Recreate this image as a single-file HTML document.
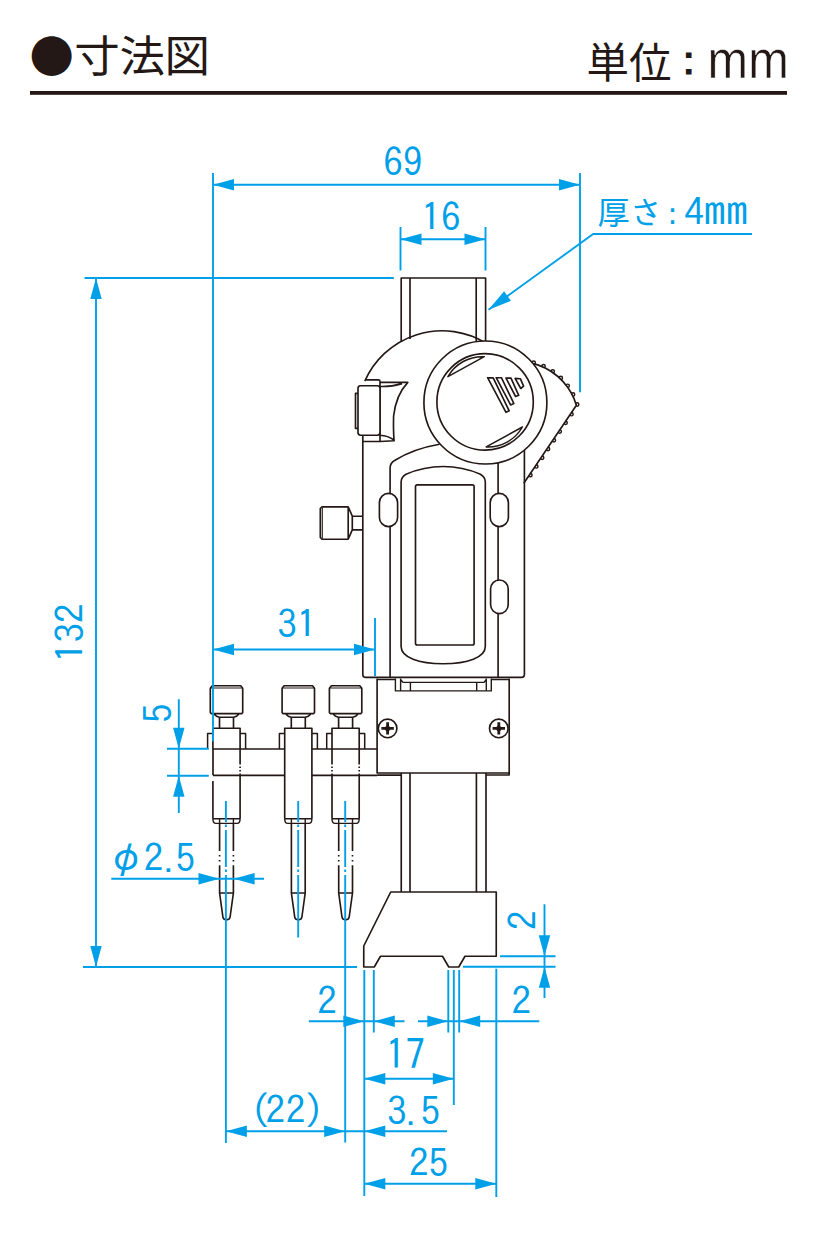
<!DOCTYPE html>
<html lang="ja"><head><meta charset="utf-8"><title>寸法図</title>
<style>html,body{margin:0;padding:0;background:#fff}svg{display:block}</style></head>
<body>
<svg width="820" height="1250" viewBox="0 0 820 1250">
<rect width="820" height="1250" fill="#fff"/>

<text id="bul" x="29.5" y="73.3" font-family="'Noto Sans CJK JP', sans-serif" font-size="44.3" fill="#231815">●</text>
<text id="ttl" transform="translate(74.3,72) scale(1,0.96)" letter-spacing="-0.4" font-family="'Liberation Sans','Noto Sans CJK JP', sans-serif" font-size="45.5" fill="#231815">寸法図</text>
<text id="unit" x="586.5" y="77.6" font-family="'Liberation Sans','Noto Sans CJK JP', sans-serif" font-size="42.5" fill="#231815">単位<tspan x="665" y="76.6" font-size="47" font-family="IPAGothic, 'Noto Sans CJK JP', sans-serif">：</tspan></text>
<text id="mm" x="0" y="0" transform="translate(707.6,78) scale(0.955,1)" font-family="'Liberation Sans', sans-serif" font-size="51" fill="#231815" stroke="#fff" stroke-width="0.45">mm</text>
<rect x="30" y="91" width="757" height="3.8" fill="#231815"/>

<g stroke="#231815" stroke-width="1.65" fill="none" stroke-linejoin="round" stroke-linecap="butt">
<path d="M401.2,342 V278 H485.6 V342 M410,339 V278 M476.2,341 V278" />
<circle cx="533.68" cy="362.71" r="1.7" fill="#fff" stroke-width="1.45"/>
<circle cx="543.52" cy="366.25" r="1.7" fill="#fff" stroke-width="1.45"/>
<circle cx="552.73" cy="371.45" r="1.7" fill="#fff" stroke-width="1.45"/>
<circle cx="560.79" cy="378.01" r="1.7" fill="#fff" stroke-width="1.45"/>
<circle cx="567.67" cy="385.82" r="1.7" fill="#fff" stroke-width="1.45"/>
<circle cx="573.04" cy="394.48" r="1.7" fill="#fff" stroke-width="1.45"/>
<circle cx="577.11" cy="404.47" r="1.7" fill="#fff" stroke-width="1.45"/>
<circle cx="571.45" cy="414.16" r="1.7" fill="#fff" stroke-width="1.45"/>
<circle cx="565.58" cy="422.87" r="1.7" fill="#fff" stroke-width="1.45"/>
<circle cx="559.72" cy="431.58" r="1.7" fill="#fff" stroke-width="1.45"/>
<circle cx="553.85" cy="440.29" r="1.7" fill="#fff" stroke-width="1.45"/>
<circle cx="547.99" cy="449.00" r="1.7" fill="#fff" stroke-width="1.45"/>
<circle cx="542.12" cy="457.71" r="1.7" fill="#fff" stroke-width="1.45"/>
<circle cx="536.26" cy="466.42" r="1.7" fill="#fff" stroke-width="1.45"/>
<circle cx="530.39" cy="475.13" r="1.7" fill="#fff" stroke-width="1.45"/>
<path d="M482.38,372.60 A61.40,61.40 0 0 1 576.4,405.2 L523.8,483.3 L524,440 L500,380 Z" fill="#fff" stroke="none"/>
<path d="M482.38,372.60 A61.40,61.40 0 0 1 576.4,405.2 L523.8,483.3"/>
<path d="M364.82,381.2 A84.3,84.3 0 0 1 486,343.19" />
<path d="M362.8,436 V674.4 Q362.8,677.4 365.8,677.4 H521.6 Q524.4,677.4 524.4,674.6 V449" />
<path d="M366.1,379.9 H378.5 Q380,379.9 380,381.4 V441.5 H363 M380,382.4 H407.8 Q396,395 393.6,416 Q393.2,430 394.1,440.8 L380,441.5 M380,386.5 Q392,386.8 402,383.6 M380,435.2 Q388,435.6 394,440" />
<rect x="358" y="385.7" width="22" height="49.5" rx="2.6" fill="#fff"/>
<path d="M358,393.3 H355.5 V428.4 H358" />
<path d="M322,506.8 H348.2 L352.3,516.2 V529.8 L348.2,539.2 H322 L320.3,537.5 V508.5 Z M348.2,506.8 V539.2 M352.3,516.2 H362.8 M352.3,529.8 H362.8" />
<path d="M322.3,507.5 V538.5" stroke-width="1.1"/>
<path d="M390.1,677 V467.5 Q390.4,462.4 395,460.2 Q414,448.5 439.5,444.2" />
<path d="M498.1,462 V677" />
<path d="M401.1,646.5 V482 Q401.1,477 406,474.2 Q424,466.5 443.2,466.5 Q462.5,466.5 480.4,474.2 Q485.3,477 485.3,482 V646.5 C485.3,657.5 467.5,663.7 443.2,663.7 C419,663.7 401.1,657.5 401.1,646.5 Z" />
<rect x="415.5" y="484.8" width="58.6" height="160.2" rx="1.8"/>
<rect x="379.4" y="493.4" width="18.2" height="33.2" rx="9.1" fill="#fff"/>
<rect x="490.2" y="493.4" width="18.2" height="33.2" rx="9.1" fill="#fff"/>
<rect x="490.6" y="580" width="17.6" height="33.6" rx="8.8" fill="#fff"/>
<circle cx="485.4" cy="402.5" r="61.5" fill="#fff"/>
<circle cx="485.1" cy="401.9" r="48.2"/>
<path d="M447.9,376.6 A39.5,39.5 0 0 1 484.3,356.7 Z" stroke-width="1.5"/>
<path d="M486.2,446.9 A39.5,39.5 0 0 0 522.4,427 Z" stroke-width="1.5"/>
<g stroke-width="1.65">
<path d="M487.6,377.7 L493.2,377.9 L509.2,410.8 L506,412.3 Z"/>
<path d="M496.2,377.7 L501.4,377.7 L513.8,403.4 L510.6,404.9 Z"/>
<path d="M506,378.1 L511,378.1 L518.7,395.3 L515.6,396.5 Z"/>
<path d="M515.1,378.4 L520.3,378.7 L523.6,386.2 L520.8,388.5 Z"/>
</g>
<path d="M377.1,678.5 V773 H509.2 V678.5 M486,775 H509.2 V773 M377.1,775.1 H401.2 M377.1,679.5 H395.4 M491.3,679.5 H509.2" />
<path d="M395.4,678.5 V690.9 H491.3 V678.5 M400.6,678.5 V690.9 M486.3,678.5 V690.9 M400.6,679.5 L403,682.4 H484 L486.3,679.5 M410.4,682.4 V690.9 M476.7,682.4 V690.9" stroke-width="1.4"/>
<circle cx="387.6" cy="728.4" r="9.3"/>
<path d="M381.40000000000003,728.4 H393.8 M387.6,722.2 V734.6" stroke-width="2.8"/>
<circle cx="387.6" cy="728.4" r="2.6" fill="#231815" stroke="none"/>
<circle cx="498.8" cy="728.4" r="9.3"/>
<path d="M492.6,728.4 H505.0 M498.8,722.2 V734.6" stroke-width="2.8"/>
<circle cx="498.8" cy="728.4" r="2.6" fill="#231815" stroke="none"/>
<path d="M401.25,773 V892 M410,773 V892 M476.4,773 V892 M486,773 V892" />
<path d="M390.7,892 H496.25 V956.25 H465 L458.75,967 H448.75 L442.5,956.25 H380.5 L374.25,967 H363.75 V946 Z" />
<path d="M213,749 H284.6 M312,749 H377 M213,775.3 H284.6 M312,775.3 H377 M213,749 V775.3" />
<path d="M210.30,688.2 L212.30,685.7 H240.70 L242.70,688.2 V712.6 L241.90,713.6 H211.10 L210.30,712.6 Z M214.30,714.2 Q215.90,716.4 219.40,717.2 H233.60 Q237.10,716.4 238.70,714.2" />
<path d="M210.50,688 H242.50" stroke-width="1.1"/>
<path d="M219.50,717.3 V728.2 M233.50,717.3 V728.2" />
<path d="M212.90,733.6 H207.60 V749 M240.10,733.6 H245.60 V749" stroke-width="1.5"/>
<path d="M212.90,749 V728.2 H240.10 V749" />
<path d="M212.90,781 V818.7 M240.10,781 V818.7" />
<path d="M240.10,749 V781" stroke-dasharray="15.5 2 1.5 2 1.5 2 40"/>
<path d="M212.90,818.7 H240.10 M212.90,818.7 Q212.90,823.4 215.90,823.4 H237.10 Q240.10,823.4 240.10,818.7 M219.60,818.7 V823.4 M233.40,818.7 V823.4" stroke-width="1.4"/>
<path d="M219.60,823.4 V893 M233.40,823.4 V893" stroke-dasharray="27.6 4 1.6 3.4 1.6 3.6 40"/>
<path d="M219.60,893 H233.40 M219.60,893 L222.90,917 Q223.30,919.8 226.50,919.8 Q229.70,919.8 230.10,917 L233.40,893" />
<path d="M282.10,688.2 L284.10,685.7 H312.50 L314.50,688.2 V712.6 L313.70,713.6 H282.90 L282.10,712.6 Z M286.10,714.2 Q287.70,716.4 291.20,717.2 H305.40 Q308.90,716.4 310.50,714.2" />
<path d="M282.30,688 H314.30" stroke-width="1.1"/>
<path d="M291.30,717.3 V728.2 M305.30,717.3 V728.2" />
<path d="M284.70,733.6 H279.40 V749 M311.90,733.6 H317.40 V749" stroke-width="1.5"/>
<path d="M284.70,818.7 V728.2 H311.90 V818.7" />
<path d="M284.70,818.7 H311.90 M284.70,818.7 Q284.70,823.4 287.70,823.4 H308.90 Q311.90,823.4 311.90,818.7 M291.40,818.7 V823.4 M305.20,818.7 V823.4" stroke-width="1.4"/>
<path d="M291.40,823.4 V893 M305.20,823.4 V893" />
<path d="M291.40,893 H305.20 M291.40,893 L294.70,917 Q295.10,919.8 298.30,919.8 Q301.50,919.8 301.90,917 L305.20,893" />
<path d="M329.40,688.2 L331.40,685.7 H359.80 L361.80,688.2 V712.6 L361.00,713.6 H330.20 L329.40,712.6 Z M333.40,714.2 Q335.00,716.4 338.50,717.2 H352.70 Q356.20,716.4 357.80,714.2" />
<path d="M329.60,688 H361.60" stroke-width="1.1"/>
<path d="M338.60,717.3 V728.2 M352.60,717.3 V728.2" />
<path d="M332.00,733.6 H326.70 V749 M359.20,733.6 H364.70 V749" stroke-width="1.5"/>
<path d="M332.00,749 V728.2 H359.20 V749" />
<path d="M332.00,781 V818.7 M359.20,781 V818.7" />
<path d="M332.00,749 V781" stroke-dasharray="15.5 2 1.5 2 1.5 2 40"/>
<path d="M359.20,749 V781" stroke-dasharray="15.5 2 1.5 2 1.5 2 40"/>
<path d="M332.00,818.7 H359.20 M332.00,818.7 Q332.00,823.4 335.00,823.4 H356.20 Q359.20,823.4 359.20,818.7 M338.70,818.7 V823.4 M352.50,818.7 V823.4" stroke-width="1.4"/>
<path d="M338.70,823.4 V893 M352.50,823.4 V893" stroke-dasharray="27.6 4 1.6 3.4 1.6 3.6 40"/>
<path d="M338.70,893 H352.50 M338.70,893 L342.00,917 Q342.40,919.8 345.60,919.8 Q348.80,919.8 349.20,917 L352.50,893" />
</g>
<g stroke="#00a0e9" stroke-width="1.9" fill="none">
<path d="M213,184.8 H580 M213,173 V741.3 M580,173 V392.3" />
<path d="M400.5,239.3 H485.5 M400.5,227 V270.5 M485.5,227 V270.5" />
<path d="M752,234 H593.2 L488.5,309.8" />
<path d="M84.5,278 H393.8 M83,967 H357 M96,278 V967" />
<path d="M213,649.5 H375 M375,618 V676" />
<path d="M178.8,699.3 V813 M167,748.8 H208.8 M167,775.7 H208.8" />
<path d="M111.3,878.7 H264" />
<path d="M225.9,801 V920" stroke-dasharray="21 2.5 2.5 3 37 2.5 2.5 3 300"/>
<path d="M225.9,920 V1143" />
<path d="M298.2,801 V937.5" stroke-dasharray="21 2.5 2.5 3 37 2.5 2.5 3 300"/>
<path d="M345.2,801 V920" stroke-dasharray="21 2.5 2.5 3 37 2.5 2.5 3 300"/>
<path d="M345.2,920 V1142.5" />
<path d="M225.9,1131.3 H447" />
<path d="M364.3,970 V1196 M373.8,970 V1032.5 M448.3,970 V1032.5 M453.8,970 V1105 M459.2,970 V1032.5 M496.3,968.8 V1197" />
<path d="M308.8,1021.3 H404.5 M418,1021.3 H539.3" />
<path d="M364.3,1078.8 H453.8" />
<path d="M364.3,1183.8 H496.3" />
<path d="M544.5,904.3 V998 M500,956.3 H555.5 M463,966.8 H555.5" />
</g>
<polygon points="213.00,184.80 234.00,179.10 234.00,190.50" fill="#00a0e9"/>
<polygon points="580.00,184.80 559.00,190.50 559.00,179.10" fill="#00a0e9"/>
<polygon points="400.50,239.30 421.50,233.60 421.50,245.00" fill="#00a0e9"/>
<polygon points="485.50,239.30 464.50,245.00 464.50,233.60" fill="#00a0e9"/>
<polygon points="488.50,309.80 504.08,291.24 511.00,300.80" fill="#00a0e9"/>
<polygon points="96.00,278.00 101.70,299.00 90.30,299.00" fill="#00a0e9"/>
<polygon points="96.00,967.00 90.30,946.00 101.70,946.00" fill="#00a0e9"/>
<polygon points="213.00,649.50 234.00,643.80 234.00,655.20" fill="#00a0e9"/>
<polygon points="375.00,649.50 354.00,655.20 354.00,643.80" fill="#00a0e9"/>
<polygon points="178.80,748.80 173.10,727.80 184.50,727.80" fill="#00a0e9"/>
<polygon points="178.80,775.70 184.50,796.70 173.10,796.70" fill="#00a0e9"/>
<polygon points="219.50,878.70 198.50,884.40 198.50,873.00" fill="#00a0e9"/>
<polygon points="233.60,878.70 254.60,873.00 254.60,884.40" fill="#00a0e9"/>
<polygon points="225.90,1131.30 246.90,1125.60 246.90,1137.00" fill="#00a0e9"/>
<polygon points="345.20,1131.30 324.20,1137.00 324.20,1125.60" fill="#00a0e9"/>
<polygon points="364.30,1131.30 385.30,1125.60 385.30,1137.00" fill="#00a0e9"/>
<polygon points="364.30,1021.30 343.30,1027.00 343.30,1015.60" fill="#00a0e9"/>
<polygon points="373.80,1021.30 394.80,1015.60 394.80,1027.00" fill="#00a0e9"/>
<polygon points="448.30,1021.30 427.30,1027.00 427.30,1015.60" fill="#00a0e9"/>
<polygon points="459.20,1021.30 480.20,1015.60 480.20,1027.00" fill="#00a0e9"/>
<polygon points="364.30,1078.80 385.30,1073.10 385.30,1084.50" fill="#00a0e9"/>
<polygon points="453.80,1078.80 432.80,1084.50 432.80,1073.10" fill="#00a0e9"/>
<polygon points="364.30,1183.80 385.30,1178.10 385.30,1189.50" fill="#00a0e9"/>
<polygon points="496.30,1183.80 475.30,1189.50 475.30,1178.10" fill="#00a0e9"/>
<polygon points="544.50,956.30 538.80,935.30 550.20,935.30" fill="#00a0e9"/>
<polygon points="544.50,966.80 550.20,987.80 538.80,987.80" fill="#00a0e9"/>
<text id="t69" x="383.2" y="175.8" font-family="IPAGothic, 'Noto Sans CJK JP', sans-serif" font-size="39.2" fill="#00a0e9" >69</text>
<text id="t16" x="421.3" y="230.9" font-family="IPAGothic, 'Noto Sans CJK JP', sans-serif" font-size="39.2" fill="#00a0e9" >16</text>
<text id="t31" x="277.2" y="638.2" font-family="IPAGothic, 'Noto Sans CJK JP', sans-serif" font-size="39.2" fill="#00a0e9" >31</text>
<text id="t17" transform="translate(385.8,1069.8) scale(1,1.07)" font-family="IPAGothic, 'Noto Sans CJK JP', sans-serif" font-size="39.2" fill="#00a0e9">17</text>
<text id="t35" x="387.1" y="1124.7" font-family="IPAGothic, 'Noto Sans CJK JP', sans-serif" font-size="39.2" fill="#00a0e9" >3<tspan font-size="27" dx="-0.5">.</tspan><tspan dx="0.9">5</tspan></text>
<text id="t25" x="408.9" y="1176.7" font-family="IPAGothic, 'Noto Sans CJK JP', sans-serif" font-size="39.2" fill="#00a0e9" >25</text>
<text id="t22" x="250.4" y="1124.4" font-family="IPAGothic, 'Noto Sans CJK JP', sans-serif" font-size="39.2" fill="#00a0e9" dx="0 -4.5 0.7 -1.2">(22)</text>
<text id="t2a" x="317.2" y="1014.9" font-family="IPAGothic, 'Noto Sans CJK JP', sans-serif" font-size="39.2" fill="#00a0e9" >2</text>
<text id="t2b" x="511.4" y="1014.9" font-family="IPAGothic, 'Noto Sans CJK JP', sans-serif" font-size="39.2" fill="#00a0e9" >2</text>
<text id="tphi" x="106.4" y="871.6" font-family="IPAGothic, 'Noto Sans CJK JP', sans-serif" font-size="39.2" fill="#00a0e9" >φ<tspan dx="-1.75">2</tspan><tspan font-size="27" dx="0.5">.</tspan><tspan dx="-2.0">5</tspan></text>
<text id="t132" transform="translate(83.9,662.2) rotate(-90)" font-family="IPAGothic, 'Noto Sans CJK JP', sans-serif" font-size="39.2" fill="#00a0e9">132</text>
<text id="t5" transform="translate(172.4,723) rotate(-90)" font-family="IPAGothic, 'Noto Sans CJK JP', sans-serif" font-size="39.2" fill="#00a0e9">5</text>
<text id="t2c" transform="translate(537.4,930) rotate(-90)" font-family="IPAGothic, 'Noto Sans CJK JP', sans-serif" font-size="39.2" fill="#00a0e9">2</text>
<text id="tthk" x="597.3" y="225.2" font-family="IPAGothic, 'Noto Sans CJK JP', sans-serif" font-size="33.2" fill="#00a0e9">厚<tspan dx="-0.7">さ</tspan><tspan x="667.3" font-family="'DejaVu Sans', sans-serif" font-size="31" y="224.4">:</tspan><tspan x="684.3" y="225.8" font-size="39.2">4</tspan><tspan x="703.8" y="225.8" font-size="44.3">mm</tspan></text>
</svg>
</body></html>
